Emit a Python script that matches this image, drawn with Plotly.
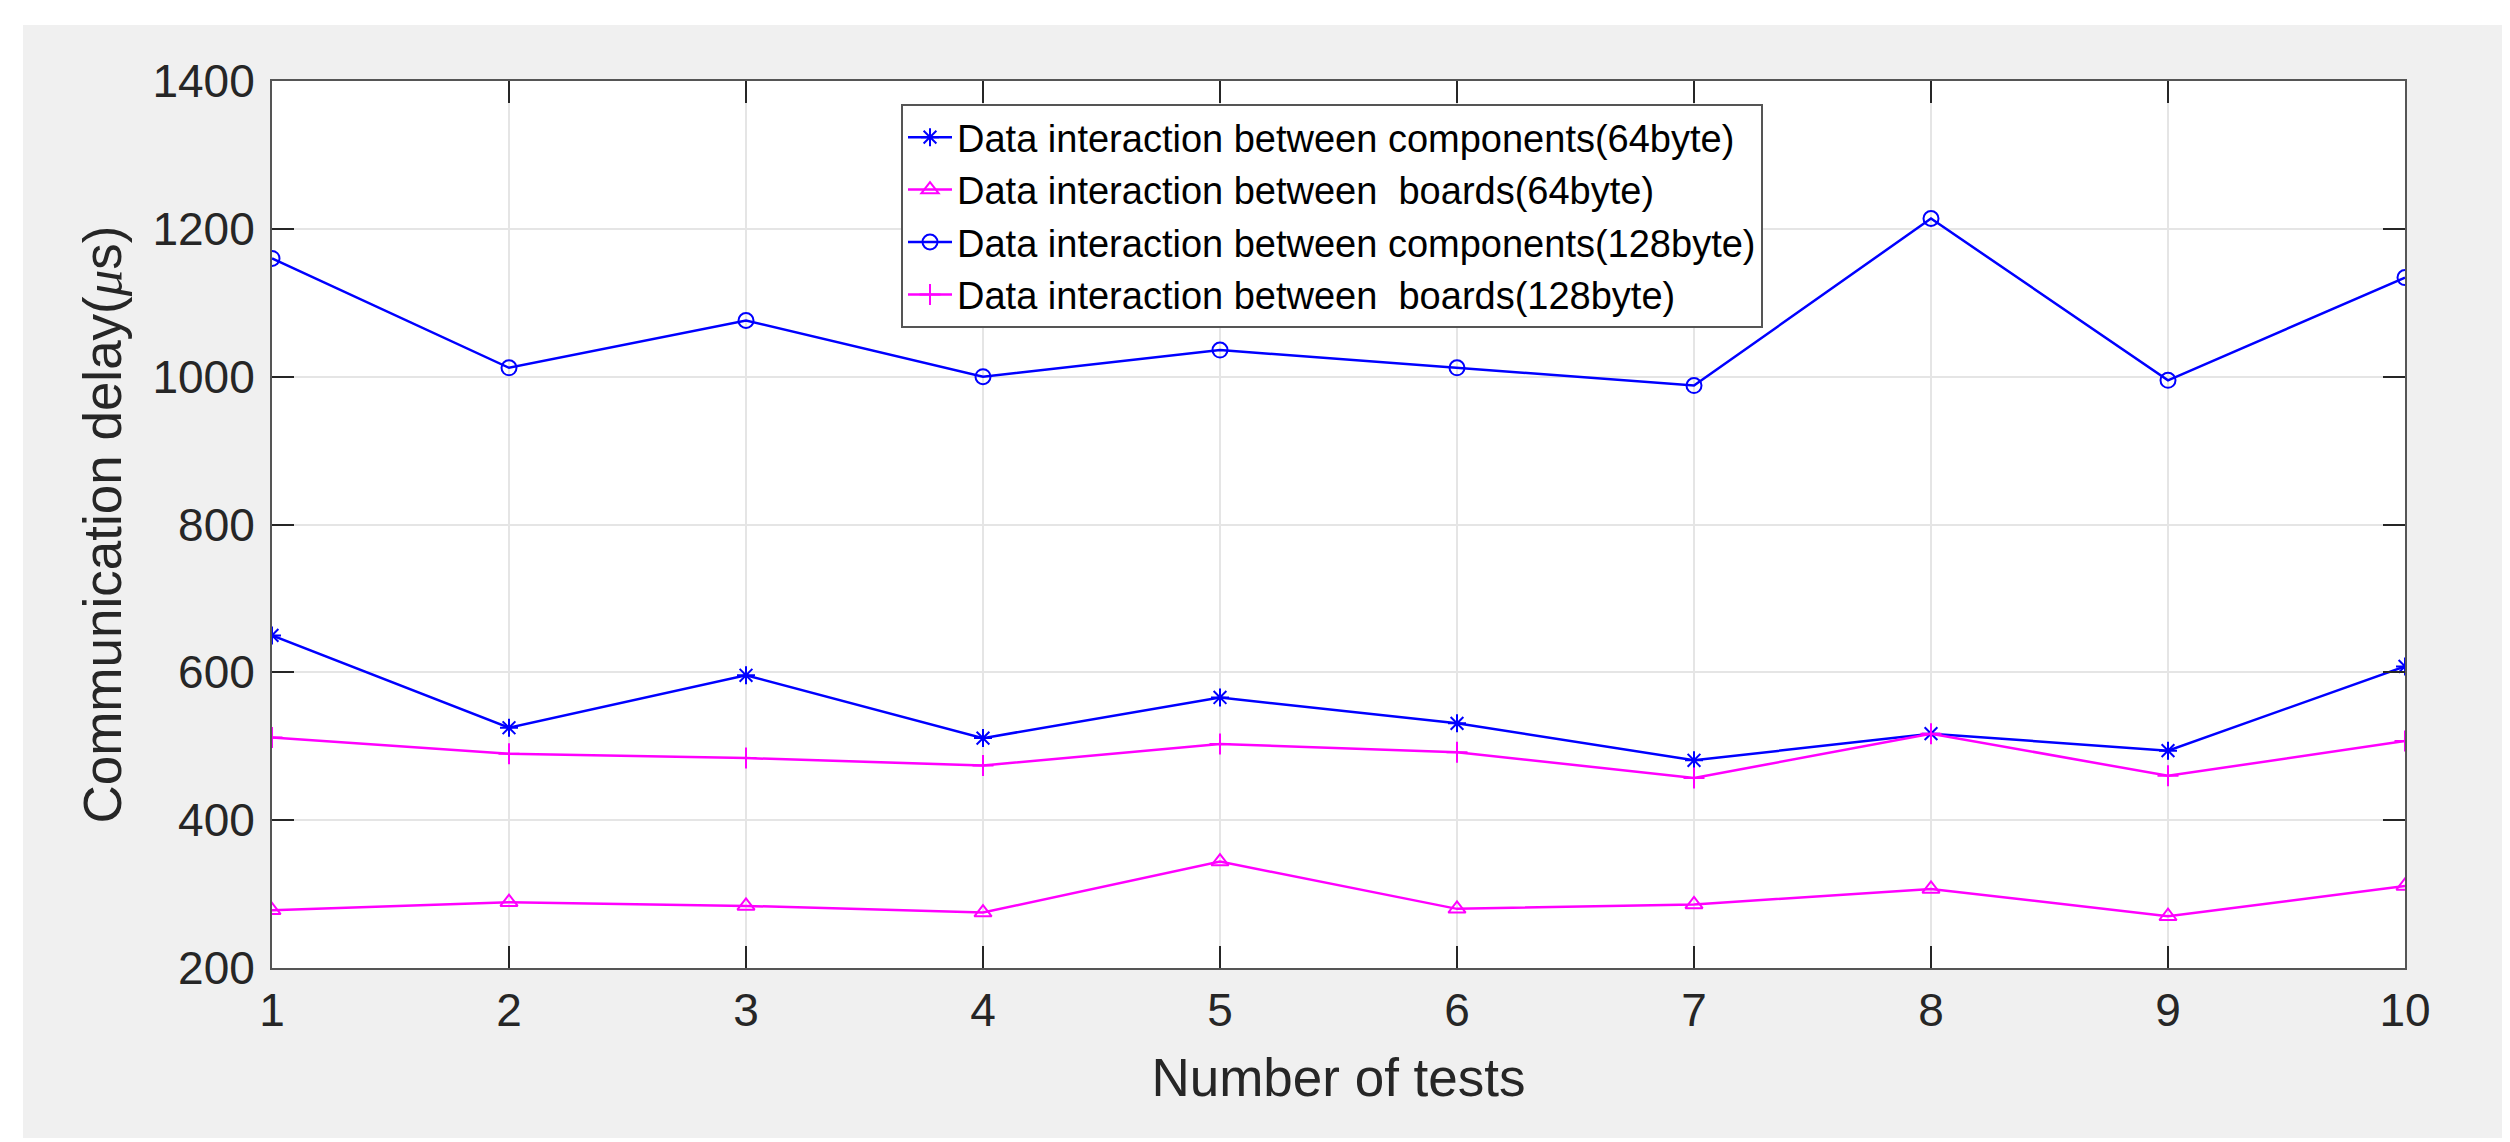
import plotly.graph_objects as go

tests = [1, 2, 3, 4, 5, 6, 7, 8, 9, 10]
comp64 = [650, 525, 596, 511, 566, 531, 481, 517, 494, 608]
boards64 = [278, 289, 284, 275, 344, 280, 286, 307, 270, 311]
comp128 = [1160, 1012, 1076, 1000, 1036, 1012, 988, 1214, 995, 1134]
boards128 = [512, 490, 484, 474, 503, 492, 457, 517, 460, 507]

names = [
    "Data interaction between components(64byte)",
    "Data interaction between  boards(64byte)",
    "Data interaction between components(128byte)",
    "Data interaction between  boards(128byte)",
]
y_ticks = [200, 400, 600, 800, 1000, 1200, 1400]

BLUE = "#0000FF"
MAG = "#FF00FF"
font_fam = "Liberation Sans, Arial, sans-serif"

fig = go.Figure()
series = [
    (comp64, names[0], BLUE, "asterisk-open"),
    (boards64, names[1], MAG, "triangle-up-open"),
    (comp128, names[2], BLUE, "circle-open"),
    (boards128, names[3], MAG, "cross-thin-open"),
]
for vals, nm, col, sym in series:
    fig.add_trace(go.Scatter(
        x=tests, y=vals, name=nm, mode="lines+markers",
        line=dict(color=col, width=2.5),
        marker=dict(symbol=sym, size=15, color=col, line=dict(color=col, width=2)),
    ))

W, H = 2510, 1142
L, R, T, B = 264, 113, 73, 182
pw, ph = W - L - R, H - T - B

def px2x(p):
    return (p - L) / pw

def px2y(p):
    return (H - B - p) / ph

shapes = [
    dict(type="rect", xref="paper", yref="paper", layer="below",
         x0=px2x(15), x1=px2x(2497), y0=px2y(1130), y1=px2y(17),
         fillcolor="#F0F0F0", line=dict(width=0)),
    dict(type="rect", xref="paper", yref="paper", layer="below",
         x0=0, x1=1, y0=0, y1=1, fillcolor="#FFFFFF", line=dict(width=0)),
]

axis_common = dict(
    showline=True, mirror="ticks", linecolor="#555555", linewidth=2,
    ticks="inside", ticklen=22, tickwidth=1.5, tickcolor="#262626",
    showgrid=True, gridcolor="#E5E5E5", gridwidth=1.5,
    zeroline=False,
    tickfont=dict(family=font_fam, size=46, color="#262626"),
)

fig.update_layout(
    width=W, height=H,
    margin=dict(l=L, r=R, t=T, b=B),
    paper_bgcolor="#FFFFFF",
    plot_bgcolor="#FFFFFF",
    shapes=shapes,
    xaxis=dict(
        range=[1, 10], tickvals=tests, ticklabelstandoff=1,
        title=dict(text="Number of tests", standoff=24,
                   font=dict(family=font_fam, size=53, color="#262626")),
        **axis_common,
    ),
    yaxis=dict(
        range=[200, 1400], tickvals=y_ticks,
        ticklabelstandoff=6,
        title=dict(text="Communication delay(<i><span style=\"font-family:Liberation Serif\">μ</span></i>s)",
                   standoff=14,
                   font=dict(family=font_fam, size=53, color="#262626")),
        **axis_common,
    ),
    legend=dict(
        x=px2x(893), y=px2y(96), xanchor="left", yanchor="top",
        bgcolor="#FFFFFF", bordercolor="#555555", borderwidth=2,
        font=dict(family=font_fam, size=38, color="#000000"),
        tracegroupgap=0, itemwidth=44,
    ),
    showlegend=True,
)

fig.write_html("out.html")
